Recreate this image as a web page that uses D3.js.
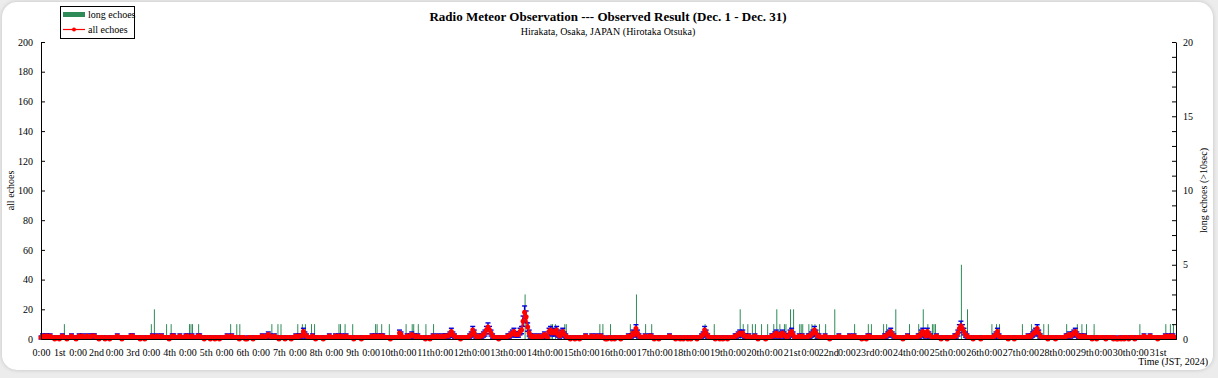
<!DOCTYPE html>
<html>
<head>
<meta charset="utf-8">
<script src="https://cdn.jsdelivr.net/npm/d3@7"></script>
<style>
 body { margin: 0; background: #ececec; }
 #panel { position: absolute; left: 2px; top: 2px; width: 1211px; height: 368px;
   background: #fff; border-radius: 15px; box-shadow: 0 0 4px rgba(0,0,0,0.18); }
 #chart { position: absolute; left: 0; top: 0; }
 text { font-family: "Liberation Serif", "Times New Roman", serif; }
</style>
</head>
<body>
<div id="panel"></div>
<div id="chart"></div>
<script>
// hourly counts of all echoes, one row per day (0h .. 23h JST)
var day01 = [1,2,1,2,2,1,2,1,1,0,1,1,0,1,2,1,1,0,1,1,2,1,1,0];
var day02 = [1,2,1,2,1,1,2,1,1,2,2,2,1,1,0,1,1,1,0,1,1,0,1,1];
var day03 = [1,1,2,1,1,0,1,1,1,1,1,2,2,1,1,1,1,0,1,1,0,1,1,1];
var day04 = [1,2,1,1,2,1,1,2,1,1,1,1,0,1,2,2,1,1,1,2,1,1,1,2];
var day05 = [2,1,1,2,1,1,1,2,2,1,1,0,1,1,1,0,1,1,0,1,1,0,1,1];
var day06 = [1,1,2,1,1,2,1,1,1,1,0,1,1,1,0,0,1,1,1,0,1,1,1,1];
var day07 = [1,2,1,1,2,3,2,1,1,2,1,1,0,1,1,1,0,1,1,1,0,1,1,2];
var day08 = [1,2,2,2,5,3,2,1,1,1,2,1,0,1,1,1,1,0,1,1,1,2,1,1];
var day09 = [1,2,1,2,1,2,1,1,2,1,1,1,1,0,1,1,1,1,0,1,1,1,1,1];
var day10 = [1,2,1,2,1,2,1,2,2,1,1,1,1,0,1,1,1,1,1,4,3,1,1,1];
var day11 = [2,1,2,3,2,2,1,2,1,1,1,1,0,1,1,0,1,2,1,1,2,1,1,2];
var day12 = [1,2,2,2,3,5,3,2,1,1,1,0,1,1,1,1,1,2,3,6,4,2,1,1];
var day13 = [2,2,3,4,6,8,6,4,2,1,1,1,0,1,1,1,1,1,2,2,3,4,5,3];
var day14 = [3,3,5,6,12,18,15,8,4,2,1,2,1,1,2,1,1,2,3,2,1,5,6,4];
var day15 = [5,4,6,3,2,4,5,3,2,1,1,0,1,1,0,1,1,0,1,1,1,2,1,1];
var day16 = [1,2,1,1,2,1,1,2,1,1,0,0,1,1,0,1,0,1,1,1,0,1,1,1];
var day17 = [1,2,1,2,4,3,7,4,2,1,1,1,2,1,1,2,2,1,0,1,1,0,1,1];
var day18 = [1,1,1,1,2,1,1,1,0,1,1,0,1,0,1,1,0,1,0,1,1,1,0,1];
var day19 = [1,2,3,6,4,2,1,1,1,1,0,1,1,0,1,0,1,1,0,1,1,1,1,2];
var day20 = [2,3,4,3,4,2,2,1,2,1,1,1,2,1,0,1,1,1,1,0,1,1,1,2];
var day21 = [2,3,4,2,3,2,4,3,2,1,2,4,5,3,1,1,1,2,1,2,1,1,1,2];
var day22 = [2,3,4,6,4,2,2,1,1,1,2,1,1,0,1,1,1,1,1,2,1,1,1,1];
var day23 = [1,1,2,1,1,2,1,1,1,1,0,1,1,0,2,2,1,1,1,1,1,1,1,1];
var day24 = [1,2,2,3,4,5,3,2,1,1,1,1,1,0,1,1,2,1,1,1,1,1,1,2];
var day25 = [2,4,5,3,2,5,3,2,1,1,1,2,1,1,0,1,1,1,0,1,1,1,1,2];
var day26 = [2,4,7,9,7,5,3,2,1,1,1,0,1,1,1,1,0,1,1,1,1,1,1,1];
var day27 = [1,2,3,5,2,1,1,1,1,1,0,1,1,1,0,1,1,1,1,1,1,1,1,2];
var day28 = [1,2,3,4,5,7,4,2,1,1,1,1,0,1,1,1,1,0,1,1,1,1,1,1];
var day29 = [2,2,3,2,3,4,5,3,2,1,2,1,2,1,1,1,1,0,1,1,0,1,1,1];
var day30 = [1,1,0,1,1,1,1,0,1,0,0,1,0,1,0,1,1,0,1,1,1,0,1,1];
var day31 = [1,1,1,2,1,1,1,2,1,1,1,1,0,1,1,1,1,2,1,2,1,2,2,1];

// long echoes (>10sec): hour index from Dec 1 0:00, and count in that hour
var longHours  = [15,72,74,82,85,97,98,99,103,124,128,130,151,155,157,168,171,173,177,179,
  195,196,199,204,219,220,223,228,239,243,244,247,252,257,317,319,334,335,337,343,344,
  366,368,373,386,390,396,400,435,441,458,460,463,466,468,472,476,480,482,484,487,488,
  491,493,497,498,499,503,505,507,510,514,520,533,542,544,552,554,560,569,575,578,581,
  584,585,586,603,607,623,626,628,643,649,653,657,660,672,679,682,685,690,720,737,740,742];
var longCounts = [1,1,2,1,1,1,1,1,1,1,1,1,1,1,1,1,1,1,1,1,
  1,1,1,1,1,1,1,1,1,1,1,1,1,1,3,1,1,1,1,1,1,
  1,1,1,1,3,1,1,1,1,2,1,1,1,1,1,1,1,2,1,1,1,
  2,2,1,1,1,1,1,1,1,1,2,1,1,1,1,1,2,1,1,2,1,
  1,1,1,5,2,1,1,1,1,1,1,1,1,1,1,1,1,1,1,1,1,1];

var dayLabels = ["1st","2nd","3rd","4th","5th","6th","7th","8th","9th","10th",
  "11th","12th","13th","14th","15th","16th","17th","18th","19th","20th",
  "21st","22nd","23rd","24th","25th","26th","27th","28th","29th","30th","31st"];

var allEchoes = [].concat(day01,day02,day03,day04,day05,day06,day07,day08,day09,day10,
  day11,day12,day13,day14,day15,day16,day17,day18,day19,day20,
  day21,day22,day23,day24,day25,day26,day27,day28,day29,day30,day31);
var nHours = allEchoes.length;

var svgWidth = 1218, svgHeight = 378;
var margin = {top: 42, right: 42, bottom: 39, left: 41};
var width = svgWidth - margin.left - margin.right;
var height = svgHeight - margin.top - margin.bottom;

var svg = d3.select("#chart").append("svg")
  .attr("width", svgWidth)
  .attr("height", svgHeight);
var g = svg.append("g")
  .attr("transform", "translate(" + margin.left + "," + margin.top + ")");

var x = d3.scaleLinear().domain([0, nHours]).range([0, width]);
var y = d3.scaleLinear().domain([0, 200]).range([height, 0]);
var y2 = d3.scaleLinear().domain([0, 20]).range([height, 0]);

// long echoes (right axis)
g.append("g").selectAll("line")
  .data(longHours)
  .enter().append("line")
    .attr("x1", function (d) { return x(d) + 0.5; })
    .attr("x2", function (d) { return x(d) + 0.5; })
    .attr("y1", y2(0))
    .attr("y2", function (d, i) { return y2(longCounts[i]); })
    .attr("stroke", "#2e8b57")
    .attr("stroke-width", 1);

// error bars (sqrt n)
var errs = g.append("g").attr("stroke", "#0000dd").attr("stroke-width", 1.4);
allEchoes.forEach(function (v, i) {
  if (v <= 0) return;
  var e = Math.sqrt(v);
  var cx = x(i);
  errs.append("line").attr("x1", cx).attr("x2", cx)
    .attr("y1", y(v - e)).attr("y2", y(v + e));
  errs.append("line").attr("x1", cx - 2.5).attr("x2", cx + 2.5)
    .attr("y1", y(v + e)).attr("y2", y(v + e));
  errs.append("line").attr("x1", cx - 2.5).attr("x2", cx + 2.5)
    .attr("y1", y(Math.max(v - e, 0))).attr("y2", y(Math.max(v - e, 0)));
});

// all echoes line
g.append("path")
  .datum(allEchoes)
  .attr("fill", "none")
  .attr("stroke", "#ff0000")
  .attr("stroke-width", 2)
  .attr("d", d3.line().x(function (d, i) { return x(i); }).y(function (d) { return y(d); }));
g.append("g").selectAll("circle")
  .data(allEchoes)
  .enter().append("circle")
    .attr("cx", function (d, i) { return x(i); })
    .attr("cy", function (d) { return y(d); })
    .attr("r", 2.5)
    .attr("fill", "#ff0000");

// axes
var leftAxis = g.append("g")
  .call(d3.axisLeft(y).tickValues(d3.range(0, 201, 20)).tickSizeInner(-4).tickSizeOuter(0).tickPadding(8));
var rightAxis = g.append("g")
  .attr("transform", "translate(" + width + ",0)")
  .call(d3.axisRight(y2).tickValues(d3.range(0, 21, 1)).tickSizeInner(-4).tickSizeOuter(0).tickPadding(7)
    .tickFormat(function (d) { return d % 5 === 0 ? d : ""; }));

var xTicks = [];
dayLabels.forEach(function (lab, i) { xTicks.push(i * 24); xTicks.push(i * 24 + 12); });
var bottomAxis = g.append("g")
  .attr("transform", "translate(0," + height + ")")
  .call(d3.axisBottom(x).tickValues(xTicks).tickSizeInner(0).tickSizeOuter(0).tickPadding(10)
    .tickFormat(function (d) { return d % 24 === 0 ? "0:00" : dayLabels[Math.floor(d / 24)]; }));

[leftAxis, rightAxis, bottomAxis].forEach(function (a) {
  a.selectAll("text").attr("font-size", 10).attr("font-family", "Liberation Serif").attr("fill", "#000");
  a.selectAll("path, line").attr("stroke", "#000");
});

// titles
svg.append("text").attr("x", 608).attr("y", 21).attr("text-anchor", "middle")
  .attr("font-size", 13).attr("font-weight", "bold")
  .text("Radio Meteor Observation --- Observed Result (Dec. 1 - Dec. 31)");
svg.append("text").attr("x", 608).attr("y", 35).attr("text-anchor", "middle")
  .attr("font-size", 10).text("Hirakata, Osaka, JAPAN (Hirotaka Otsuka)");
svg.append("text").attr("transform", "translate(14," + (margin.top + height / 2) + ") rotate(-90)")
  .attr("text-anchor", "middle").attr("font-size", 10).text("all echoes");
svg.append("text").attr("transform", "translate(1207," + (margin.top + height / 2) + ") rotate(-90)")
  .attr("text-anchor", "middle").attr("font-size", 10).text("long echoes (>10sec)");
svg.append("text").attr("x", 1208).attr("y", 365).attr("text-anchor", "end")
  .attr("font-size", 10).text("Time (JST, 2024)");

// legend
var legend = svg.append("g");
legend.append("rect").attr("x", 60.5).attr("y", 6.5).attr("width", 74).attr("height", 32)
  .attr("fill", "#fff").attr("stroke", "#000");
legend.append("rect").attr("x", 63).attr("y", 12).attr("width", 22).attr("height", 5).attr("fill", "#2e8b57");
legend.append("text").attr("x", 88).attr("y", 18).attr("font-size", 10).text("long echoes");
legend.append("line").attr("x1", 63).attr("x2", 85).attr("y1", 29.5).attr("y2", 29.5)
  .attr("stroke", "#ff0000").attr("stroke-width", 1.2);
legend.append("circle").attr("cx", 74).attr("cy", 29.5).attr("r", 2).attr("fill", "#ff0000");
legend.append("text").attr("x", 88).attr("y", 33).attr("font-size", 10).text("all echoes");
</script>
</body>
</html>
